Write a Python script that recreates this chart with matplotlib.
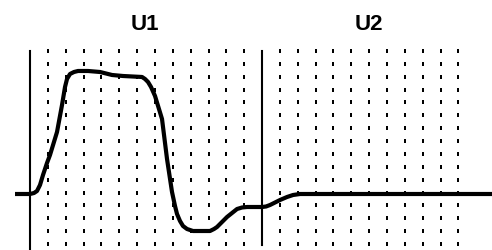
import numpy as np
import matplotlib
matplotlib.use("Agg")
import matplotlib.pyplot as plt

# Waveform (time in grid units, amplitude in grid units)
t = [-0.84, 0.0, 0.224, 0.392, 0.560, 0.728, 0.952, 1.120, 1.513, 1.793, 1.961,
     2.073, 2.241, 2.465, 2.689, 3.249, 3.922, 4.594, 5.210, 6.275, 6.443, 6.611,
     6.779, 7.003, 7.395, 7.675, 7.955, 8.123, 8.235, 8.403, 8.571, 8.796, 9.132,
     10.084, 10.308, 10.476, 11.036, 11.597, 11.877, 12.157, 13.0, 13.221, 13.445,
     14.006, 14.398, 14.734, 15.126, 25.9]
v = [0.0, 0.0, 0.078, 0.233, 0.699, 1.476, 2.409, 3.030, 4.817, 6.915, 8.314,
     8.936, 9.324, 9.479, 9.557, 9.557, 9.479, 9.246, 9.168, 9.091, 8.936, 8.702,
     8.314, 7.615, 5.828, 2.720, 0.155, -0.932, -1.554, -2.098, -2.486, -2.720,
     -2.875, -2.875, -2.720, -2.564, -1.787, -1.166, -1.049, -1.010, -1.010,
     -0.971, -0.855, -0.466, -0.233, -0.078, 0.0, 0.0]

section_labels = ["U1", "U2"]
section_starts = [0, 13]
label_x = [6.44, 18.99]

fig = plt.figure(figsize=(4.92, 2.51), dpi=100)
ax = fig.add_axes([0, 0, 1, 1])
ax.set_xlim(-1.681, 25.88)
ax.set_ylim(-4.351, 15.15)
ax.axis("off")

# dot grid
cols = [c for c in range(1, 25) if c not in section_starts]
rows = np.arange(-4, 12) + 0.11
X, Y = np.meshgrid(cols, rows)
dot = [(-0.65, -1), (0.65, -1), (0.65, 1), (-0.65, 1), (-0.65, -1)]
ax.plot(X.ravel(), Y.ravel(), linestyle="none", marker=dot, ms=2.3,
        color="black", markeredgewidth=0)

# section lines
ax.plot([section_starts[0]] * 2, [11.11, -4.6], color="black", lw=1.5)
ax.plot([section_starts[1]] * 2, [11.11, -3.96], color="black", lw=1.5)

ax.plot(t, v, color="black", lw=3.0, solid_joinstyle="round",
        solid_capstyle="butt")

for lab, lx in zip(section_labels, label_x):
    ax.text(lx, 13.21, lab, ha="center", va="center", fontsize=16,
            fontweight="bold", family=["Liberation Sans", "DejaVu Sans"])

fig.savefig("out.png", dpi=100)
